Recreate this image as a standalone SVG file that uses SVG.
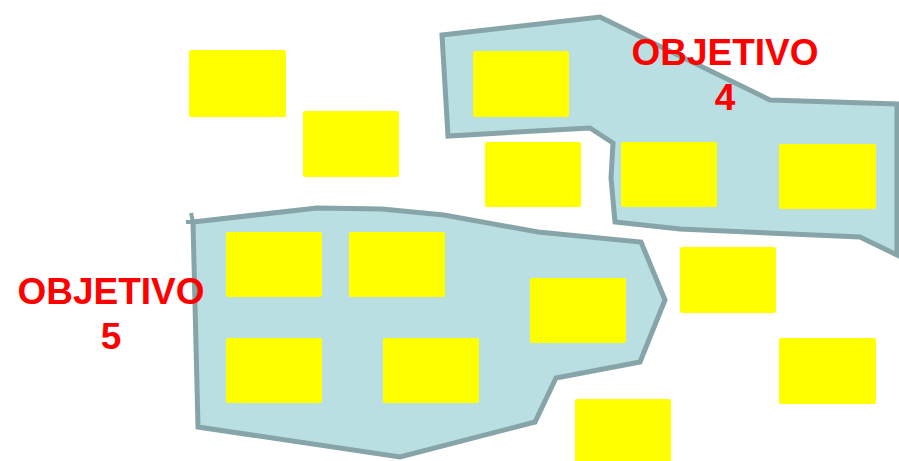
<svg xmlns="http://www.w3.org/2000/svg" width="899" height="461" viewBox="0 0 899 461">
<style>
.zone{fill:#b9dfe2;stroke:#87a5a8;stroke-width:5;stroke-linejoin:miter}
.card{fill:#ffff00;}
.lbl{font-family:"Liberation Sans",Arial,sans-serif;font-weight:bold;font-size:37px;fill:#ff0000;text-anchor:middle}
</style>
<rect width="899" height="461" fill="#ffffff"/>
<g id="zone4">
<polygon class="zone" points="442,35 600,17 770,100 897,104 897,255 860,237 680,229 615,222 611,178 613,143 590,128 448,136"/>
</g>
<g id="zone5">
<polygon class="zone" points="193,222 317,208 382,209 444,215 538,232 641,242 665,300 640,362 556,378 535,422 400,457 198,427"/>
<path d="M191,213 L193,222 M186,222 L193,222" fill="none" stroke="#87a5a8" stroke-width="4"/>
</g>
<g id="n1"><rect class="card" x="189" y="50" width="97" height="67" rx="2"/></g>
<g id="n2"><rect class="card" x="303" y="111" width="96" height="66" rx="2"/></g>
<g id="n3"><rect class="card" x="473" y="51" width="96" height="66" rx="2"/></g>
<g id="n4"><rect class="card" x="485" y="142" width="96" height="65" rx="2"/></g>
<g id="n5"><rect class="card" x="621" y="142" width="96" height="65" rx="2"/></g>
<g id="n6"><rect class="card" x="779" y="144" width="97" height="65" rx="2"/></g>
<g id="n7"><rect class="card" x="680" y="247" width="96" height="66" rx="2"/></g>
<g id="n8"><rect class="card" x="226" y="232" width="96" height="65" rx="2"/></g>
<g id="n9"><rect class="card" x="349" y="232" width="96" height="65" rx="2"/></g>
<g id="n10"><rect class="card" x="530" y="278" width="96" height="65" rx="2"/></g>
<g id="n11"><rect class="card" x="226" y="338" width="96" height="65" rx="2"/></g>
<g id="n12"><rect class="card" x="383" y="338" width="96" height="65" rx="2"/></g>
<g id="n13"><rect class="card" x="779" y="338" width="97" height="66" rx="2"/></g>
<g id="n14"><rect class="card" x="575" y="399" width="96" height="66" rx="2"/></g>
<g id="label4"><text class="lbl" x="725" y="65">OBJETIVO<tspan x="725" y="110">4</tspan></text></g>
<g id="label5"><text class="lbl" x="111" y="304">OBJETIVO<tspan x="111" y="349">5</tspan></text></g>
</svg>
